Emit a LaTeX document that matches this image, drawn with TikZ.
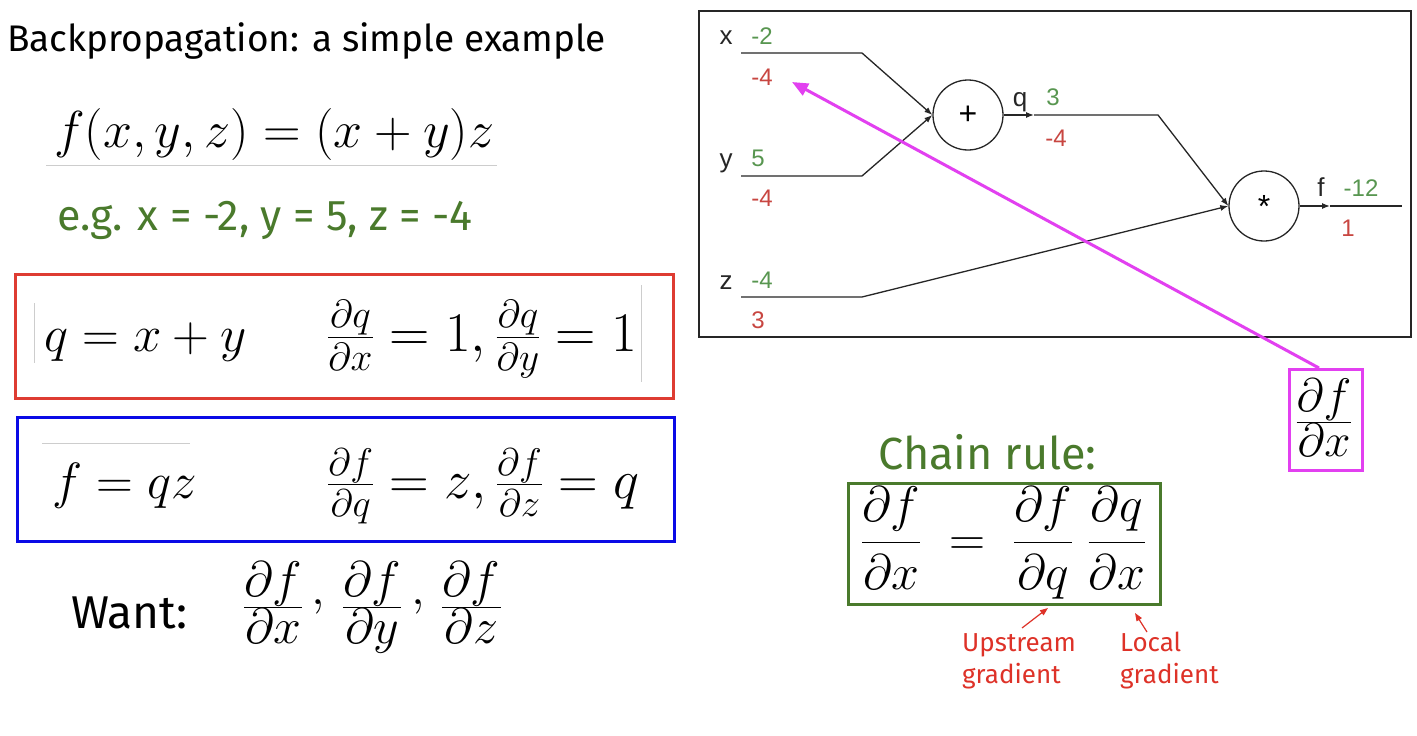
\RequirePackage{fix-cm}
\documentclass[tikz,border=0pt]{standalone}
\usepackage{amsmath}
\usepackage{graphicx}
\usepackage[no-math]{fontspec}
\newfontfamily\slidefont{Fira Sans}
\newfontfamily\graphfont{Liberation Sans}
\usetikzlibrary{arrows.meta}
\definecolor{slidegreen}{RGB}{74,122,44}
\definecolor{boxred}{RGB}{222,60,50}
\definecolor{boxblue}{RGB}{10,10,230}
\definecolor{magentaA}{RGB}{226,64,240}
\definecolor{graphgreen}{RGB}{88,150,80}
\definecolor{graphred}{RGB}{200,70,65}
\definecolor{annred}{RGB}{222,50,40}
\definecolor{artifact}{RGB}{205,205,205}
\newcommand{\tallfrac}[2]{\frac{\displaystyle #1}{\displaystyle #2}}
\newcommand{\upcomma}{\,\mathpunct{\raisebox{0.31em}{$,$}}\,}
\tikzset{
  slidetext/.style={inner sep=0pt, anchor=base west, font=\slidefont\fontsize{#1}{#1}\selectfont},
  mathtext/.style={inner sep=0pt, anchor=base west, font=\fontsize{#1}{#1}\selectfont},
  framebox/.style={draw=#1, line width=3pt, inner sep=0pt},
  wire/.style={line width=1.3pt, draw=black!85},
  wirearrow/.style={-{Latex[length=8pt,width=6pt]}},
  opnode/.style={circle, draw=black!85, line width=1.3pt, minimum size=70pt, inner sep=0pt,
    font=\graphfont\fontsize{32}{32}\selectfont},
  glabel/.style={inner sep=0pt, anchor=base, font=\graphfont\fontsize{26}{26}\selectfont, text=black!85},
  fwdval/.style={glabel, font=\graphfont\fontsize{24}{24}\selectfont, text=graphgreen},
  bwdval/.style={glabel, font=\graphfont\fontsize{24}{24}\selectfont, text=graphred},
  magarrow/.style={draw=magentaA, line width=3pt, -{Triangle[length=16pt,width=13pt]}},
  annarrow/.style={draw=annred, line width=1.2pt, -{Triangle[length=8pt,width=6pt]}},
  anntext/.style={inner sep=0pt, anchor=base west, align=left, text=annred,
    font=\slidefont\fontsize{26}{32}\selectfont},
  artline/.style={draw=artifact, line width=0.8pt},
}
\begin{document}
\begin{tikzpicture}[x=1pt,y=-1pt]
\useasboundingbox[fill=white] (0,0) rectangle (1417,736);

% ---------- left column ----------
\node[slidetext=37] (title) at (7,51) {Backpropagation: a simple example};
\node[mathtext=52] (fdef) at (54,147) {$f(x,y,z)=(x+y)z$};
\draw[artline] (46,165) -- (497,165);
\node[slidetext=43, text=slidegreen] (eg) at (57,230) {e.g. x = -2, y = 5, z = -4};

\node[framebox=boxred, minimum width=658pt, minimum height=124pt] (redbox) at (344,336) {};
\draw[artline] (34,303) -- (34,363);
\draw[artline] (641,285) -- (641,382);
\node[mathtext=51] (qdef) at (44,351) {$q=x+y$};
\node[mathtext=56] (qgrad) at (327,351) {$\frac{\partial q}{\partial x}=1,\frac{\partial q}{\partial y}=1$};

\node[framebox=boxblue, minimum width=657pt, minimum height=124pt] (bluebox) at (345.5,479) {};
\draw[artline] (42,443) -- (190,443);
\node[mathtext=51] (fq) at (52,498) {$f=qz$};
\node[mathtext=55] (fgrad) at (327,498) {$\frac{\partial f}{\partial q}=z,\frac{\partial f}{\partial z}=q$};

\node[slidetext=46] (want) at (71,628) {Want:};
\node[mathtext=50] (wantfr) at (243,620) {$\tallfrac{\partial f}{\partial x}\upcomma\tallfrac{\partial f}{\partial y}\upcomma\tallfrac{\partial f}{\partial z}$};

% ---------- computational graph ----------
\node[draw=black!85, line width=1.5pt, minimum width=712pt, minimum height=326pt, inner sep=0pt] (graphbox) at (1055,174) {};

\node[opnode] (plus) at (968,115) {+};
\node[opnode] (mul) at (1264,206) {*};

\coordinate (xs) at (741,53);  \coordinate (xb) at (862,53);
\coordinate (ys) at (741,176); \coordinate (yb) at (862,176);
\coordinate (zs) at (741,297); \coordinate (zb) at (862,297);
\coordinate (qm) at (1034,115); \coordinate (qb) at (1158,115);
\coordinate (fm) at (1330,206); \coordinate (fe) at (1402,206);

\draw[wire, wirearrow] (xs) -- (xb) -- (plus.west);
\draw[wire, wirearrow] (ys) -- (yb) -- (plus.west);
\draw[wire, wirearrow] (zs) -- (zb) -- (mul.west);
\draw[wire, wirearrow] (plus.east) -- (qm);
\draw[wire, wirearrow] (qm) -- (qb) -- (mul.west);
\draw[wire, wirearrow] (mul.east) -- (fm);
\draw[wire] (fm) -- (fe);

\node[glabel] (lx) at (726,45) {x};
\node[fwdval] (vx) at (762,44) {-2};
\node[bwdval] (gx) at (762,85) {-4};
\node[glabel] (ly) at (726,167) {y};
\node[fwdval] (vy) at (758,166) {5};
\node[bwdval] (gy) at (762,206) {-4};
\node[glabel] (lz) at (726,289) {z};
\node[fwdval] (vz) at (762,288) {-4};
\node[bwdval] (gz) at (758,328) {3};
\node[glabel] (lq) at (1020,106) {q};
\node[fwdval] (vq) at (1053,105) {3};
\node[bwdval] (gq) at (1056,146) {-4};
\node[glabel] (lf) at (1321,196) {f};
\node[fwdval] (vf) at (1361,196) {-12};
\node[bwdval] (gf) at (1348,236) {1};

% ---------- magenta ----------
\node[framebox=magentaA, minimum width=73pt, minimum height=101pt] (magbox) at (1326,420) {};
\node[inner sep=0pt, anchor=base, font=\fontsize{47}{47}\selectfont] (dfdx) at (1324,434) {$\tallfrac{\partial f}{\partial x}$};
\coordinate (mtip) at (792,82);
\draw[magarrow] ([xshift=-7pt]magbox.north) -- (mtip);

% ---------- chain rule ----------
\node[slidetext=45, text=slidegreen] (chain) at (878,469) {Chain rule:};
\node[framebox=slidegreen, minimum width=312pt, minimum height=121pt] (greenbox) at (1004,543.5) {};
\node[mathtext=50] (chaineq) at (861,555) {$\displaystyle\frac{\partial f}{\partial x}\;=\;\frac{\partial f}{\partial q}\;\frac{\partial q}{\partial x}$};

\node[anntext] (upstream) at (962,683) {Upstream\\gradient};
\node[anntext] (local) at (1120,683) {Local\\gradient};
\coordinate (upT) at (1022,628); \coordinate (upH) at (1048,608);
\coordinate (loT) at (1147,632); \coordinate (loH) at (1135,613);
\draw[annarrow] (upT) -- (upH);
\draw[annarrow] (loT) -- (loH);
\end{tikzpicture}
\end{document}
